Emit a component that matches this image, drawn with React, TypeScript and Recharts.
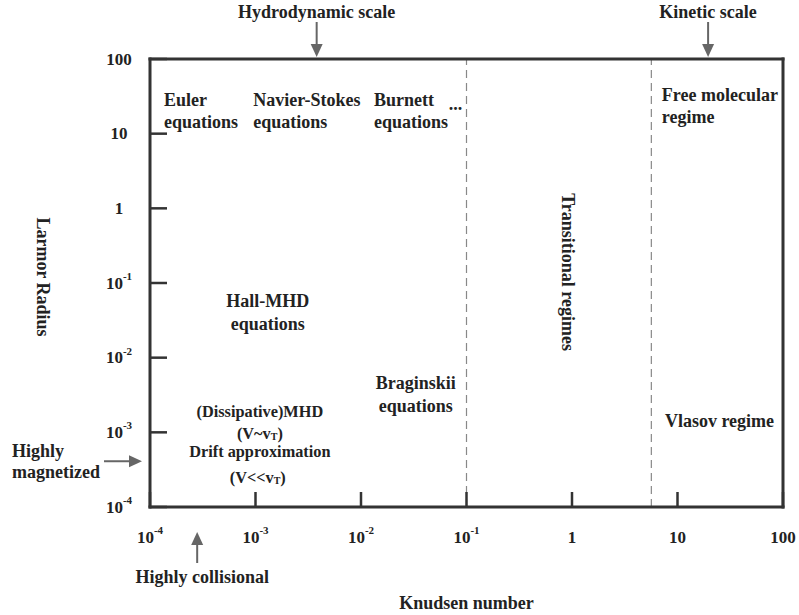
import React from "react";
import { ComposedChart, XAxis, YAxis, Scatter, ReferenceLine, Label } from "recharts";

// axis ticks (decades)
const knudsenTicks = [1e-4, 1e-3, 1e-2, 1e-1, 1, 10, 100];
const larmorTicks = [1e-4, 1e-3, 1e-2, 1e-1, 1, 10, 100];

// dashed boundaries of the transitional regime (Knudsen number)
const regimeBoundaries = [0.1, 5.65];

// left aligned region names, anchored at (Knudsen, Larmor)
const regimeNames = [
  { lines: ["Euler", "equations"], kn: 1.36e-4, rl: 28 },
  { lines: ["Navier-Stokes", "equations"], kn: 9.5e-4, rl: 28 },
  { lines: ["Burnett", "equations"], kn: 0.0133, rl: 28 },
  { lines: ["..."], kn: 0.068, rl: 25 },
  { lines: ["Free molecular", "regime"], kn: 7.1, rl: 33 },
  { lines: ["Vlasov regime"], kn: 7.6, rl: 1.42e-3 },
];

// centred region names
const centeredNames = [
  { lines: ["Hall-MHD", "equations"], kn: 1.31e-3, rl: 0.057 },
  { lines: ["Braginskii", "equations"], kn: 0.033, rl: 4.6e-3 },
];

// MHD / drift block (smaller text)
const driftNames = [
  { lines: ["(Dissipative)MHD"], kn: 1.1e-3, rl: 1.93e-3 },
  { lines: ["(V~v_T)"], kn: 1.1e-3, rl: 9.9e-4 },
  { lines: ["Drift approximation"], kn: 1.1e-3, rl: 5.6e-4 },
  { lines: ["(V<<v_T)"], kn: 1.05e-3, rl: 2.5e-4 },
];

const transitionalName = [{ lines: ["Transitional regimes"], kn: 0.92, rl: 0.14 }];

// arrows pointing at the frame
const scaleMarkers = [
  { text: "Hydrodynamic scale", kn: 0.0038, rl: 100 },
  { text: "Kinetic scale", kn: 19.5, rl: 100 },
];
const collisionalMarker = [{ text: "Highly collisional", kn: 2.8e-4, rl: 1e-4 }];
const magnetizedMarker = [{ lines: ["Highly", "magnetized"], kn: 1e-4, rl: 4.1e-4 }];

const FONT = "'Liberation Serif', 'Times New Roman', serif";
const INK = "#222";
const FRAME = "#333";
const ARROW = "#666";

const txt = {
  fontFamily: FONT,
  fontWeight: "bold" as const,
  fill: INK,
  dominantBaseline: "central" as const,
};

// "v_T" -> v with subscript T
const richLine = (s: string) => {
  const parts = s.split("_T");
  if (parts.length === 1) return s;
  return [
    <tspan key="a">{parts[0]}</tspan>,
    <tspan key="b" dy={3} fontSize={10}>T</tspan>,
    <tspan key="c" dy={-3}>{parts[1]}</tspan>,
  ];
};

const powerLabel = (v: number) =>
  v >= 1 ? { base: String(v), exp: "" } : { base: "10", exp: String(Math.round(Math.log10(v))) };

const TickText = ({ x, y, v }: { x: number; y: number; v: number }) => {
  const { base, exp } = powerLabel(v);
  return (
    <text x={x} y={y} textAnchor="middle" fontSize={17} {...txt}>
      {base}
      {exp && (
        <tspan dy={-7} fontSize={11}>
          {exp}
        </tspan>
      )}
    </text>
  );
};

const BottomTick = (p: any) => (
  <g>
    <line x1={p.x} y1={p.y} x2={p.x} y2={p.y - 15} stroke={FRAME} strokeWidth={2.5} />
    <TickText x={p.x} y={p.y + 30} v={p.payload.value} />
  </g>
);
const TopTick = (p: any) => (
  <line x1={p.x} y1={p.y} x2={p.x} y2={p.y + 14} stroke={FRAME} strokeWidth={2.5} />
);
const LeftTick = (p: any) => (
  <g>
    <line x1={p.x} y1={p.y} x2={p.x + 17} y2={p.y} stroke={FRAME} strokeWidth={2.5} />
    <TickText x={p.x - 31} y={p.y} v={p.payload.value} />
  </g>
);
const RightTick = (p: any) => (
  <line x1={p.x} y1={p.y} x2={p.x - 16} y2={p.y} stroke={FRAME} strokeWidth={2.5} />
);

const makeNames = (anchor: "start" | "middle", size: number, gap: number) => (p: any) => {
  const d = p.payload;
  return (
    <g>
      {d.lines.map((l: string, i: number) => (
        <text key={i} x={p.cx} y={p.cy + i * gap} textAnchor={anchor} fontSize={size} {...txt}>
          {richLine(l)}
        </text>
      ))}
    </g>
  );
};

const renderRotated = (p: any) => (
  <text
    x={p.cx}
    y={p.cy}
    transform={`rotate(90 ${p.cx} ${p.cy})`}
    textAnchor="middle"
    fontSize={18}
    {...txt}
  >
    {p.payload.lines[0]}
  </text>
);

const renderDownArrow = (p: any) => (
  <g>
    <line x1={p.cx} y1={p.cy - 37} x2={p.cx} y2={p.cy - 14} stroke={ARROW} strokeWidth={2} />
    <polygon
      points={`${p.cx - 6},${p.cy - 15} ${p.cx + 6},${p.cy - 15} ${p.cx},${p.cy - 2}`}
      fill={ARROW}
    />
    <text x={p.cx} y={p.cy - 47} textAnchor="middle" fontSize={18} {...txt}>
      {p.payload.text}
    </text>
  </g>
);

const renderUpArrow = (p: any) => (
  <g>
    <line x1={p.cx} y1={p.cy + 56} x2={p.cx} y2={p.cy + 36} stroke={ARROW} strokeWidth={2} />
    <polygon
      points={`${p.cx - 6},${p.cy + 38} ${p.cx + 6},${p.cy + 38} ${p.cx},${p.cy + 25}`}
      fill={ARROW}
    />
    <text x={p.cx + 5} y={p.cy + 70} textAnchor="middle" fontSize={18} {...txt}>
      {p.payload.text}
    </text>
  </g>
);

const renderRightArrow = (p: any) => (
  <g>
    <line x1={p.cx - 46} y1={p.cy} x2={p.cx - 20} y2={p.cy} stroke={ARROW} strokeWidth={2} />
    <polygon
      points={`${p.cx - 21},${p.cy - 6} ${p.cx - 21},${p.cy + 6} ${p.cx - 8},${p.cy}`}
      fill={ARROW}
    />
    {p.payload.lines.map((l: string, i: number) => (
      <text key={i} x={p.cx - 138} y={p.cy - 10 + i * 21} textAnchor="start" fontSize={18} {...txt}>
        {l}
      </text>
    ))}
  </g>
);

const frameLine = { stroke: FRAME, strokeWidth: 3, strokeLinecap: "square" as const };

export default function App() {
  return (
    <div style={{ position: "absolute", left: 0, top: 0 }}>
      <ComposedChart width={799} height={615} margin={{ top: 39, right: 15, bottom: 68, left: 90 }}>
        <XAxis
          xAxisId="bottom"
          dataKey="kn"
          type="number"
          scale="log"
          domain={[1e-4, 100]}
          ticks={knudsenTicks}
          interval={0}
          height={40}
          tickSize={0}
          tickMargin={0}
          tickLine={false}
          axisLine={frameLine}
          tick={BottomTick}
        >
          <Label
            content={(props: any) => {
              const vb = props.viewBox || {};
              return (
                <text x={vb.x + vb.width / 2} y={vb.y + 96} textAnchor="middle" fontSize={18} {...txt}>
                  Knudsen number
                </text>
              );
            }}
          />
        </XAxis>
        <XAxis
          xAxisId="top"
          orientation="top"
          type="number"
          scale="log"
          domain={[1e-4, 100]}
          ticks={knudsenTicks}
          interval={0}
          height={20}
          tickSize={0}
          tickMargin={0}
          tickLine={false}
          axisLine={frameLine}
          tick={TopTick}
        />
        <YAxis
          yAxisId="left"
          dataKey="rl"
          type="number"
          scale="log"
          domain={[1e-4, 100]}
          ticks={larmorTicks}
          interval={0}
          width={60}
          tickSize={0}
          tickMargin={0}
          tickLine={false}
          axisLine={frameLine}
          tick={LeftTick}
        >
          <Label
            content={(props: any) => {
              const vb = props.viewBox || {};
              const cx = vb.x - 47;
              const cy = vb.y + 218;
              return (
                <text
                  x={cx}
                  y={cy}
                  transform={`rotate(90 ${cx} ${cy})`}
                  textAnchor="middle"
                  fontSize={18}
                  {...txt}
                >
                  Larmor Radius
                </text>
              );
            }}
          />
        </YAxis>
        <YAxis
          yAxisId="right"
          orientation="right"
          type="number"
          scale="log"
          domain={[1e-4, 100]}
          ticks={larmorTicks}
          interval={0}
          width={1}
          tickSize={0}
          tickMargin={0}
          tickLine={false}
          axisLine={frameLine}
          tick={RightTick}
        />

        {regimeBoundaries.map((b) => (
          <ReferenceLine
            key={b}
            x={b}
            xAxisId="bottom"
            yAxisId="left"
            stroke="#888"
            strokeWidth={1.2}
            strokeDasharray="8 5"
          />
        ))}

        <Scatter data={regimeNames} xAxisId="bottom" yAxisId="left" shape={makeNames("start", 18, 22)} isAnimationActive={false} />
        <Scatter data={centeredNames} xAxisId="bottom" yAxisId="left" shape={makeNames("middle", 18, 23)} isAnimationActive={false} />
        <Scatter data={driftNames} xAxisId="bottom" yAxisId="left" shape={makeNames("middle", 16.3, 22)} isAnimationActive={false} />
        <Scatter data={transitionalName} xAxisId="bottom" yAxisId="left" shape={renderRotated} isAnimationActive={false} />
        <Scatter data={scaleMarkers} xAxisId="bottom" yAxisId="left" shape={renderDownArrow} isAnimationActive={false} />
        <Scatter data={collisionalMarker} xAxisId="bottom" yAxisId="left" shape={renderUpArrow} isAnimationActive={false} />
        <Scatter data={magnetizedMarker} xAxisId="bottom" yAxisId="left" shape={renderRightArrow} isAnimationActive={false} />
      </ComposedChart>
    </div>
  );
}
